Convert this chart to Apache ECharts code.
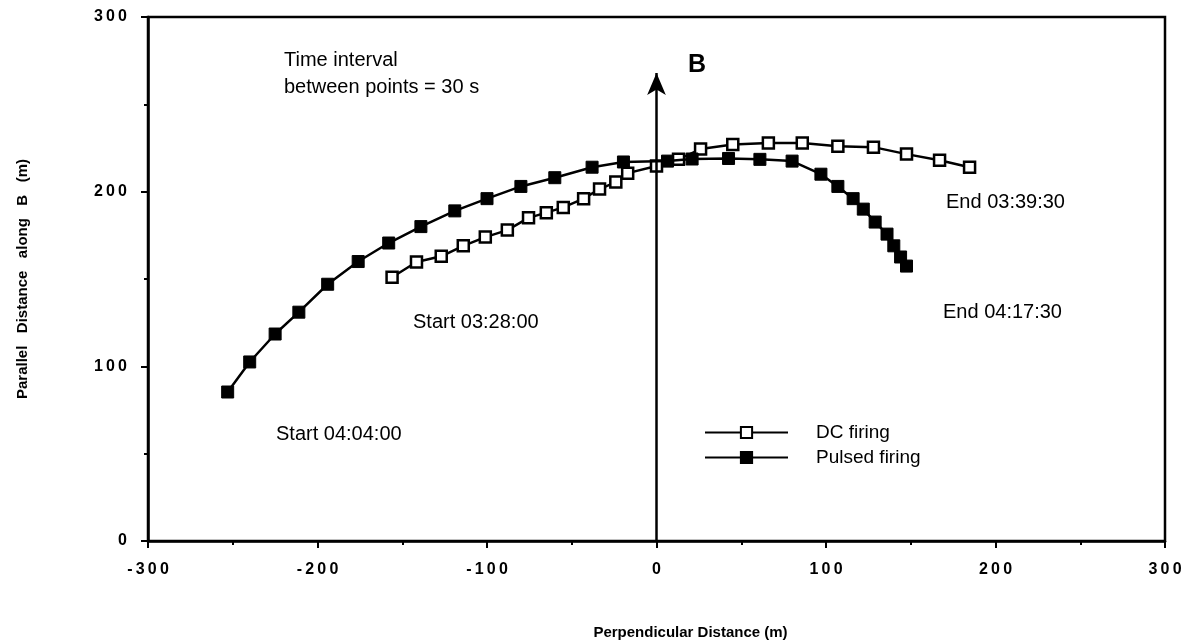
<!DOCTYPE html>
<html>
<head>
<meta charset="utf-8">
<script src="https://cdn.jsdelivr.net/npm/echarts@6/dist/echarts.min.js"></script>
<style>html,body{margin:0;padding:0;background:#fff;}#c{width:1197px;height:643px;}</style>
</head>
<body>
<div id="c"></div>
<script>
// DC firing (open squares), start 03:28:00, end 03:39:30
const dcX = [-156, -141.6, -127, -114, -101, -88, -75.5, -65, -55, -43, -33.6, -24, -17, 0, 13, 26, 45, 66, 86, 107, 128, 147.5, 167, 184.7];
const dcY = [151, 159.7, 163, 169, 174, 178, 185, 188, 191, 196, 201.5, 205.5, 210.6, 214.7, 218.5, 224.4, 227, 227.8, 227.8, 226, 225.5, 221.5, 218, 214];
// Pulsed firing (filled squares), start 04:04:00, end 04:17:30
const pulsedX = [-253, -240, -225, -211, -194, -176, -158, -139, -119, -100, -80, -60, -38, -19.5, 6.5, 21, 42.5, 61, 80, 97, 107, 116, 122, 129, 136, 140, 144, 147.5];
const pulsedY = [85.3, 102.5, 118.5, 131, 147, 160, 170.6, 180, 189, 196, 203, 208, 214, 217, 217.5, 218.7, 219, 218.5, 217.5, 210, 203, 196, 190, 182.6, 175.7, 169, 162.6, 157.4];
const xTicks = [-300, -200, -100, 0, 100, 200, 300];
const yTicks = [0, 100, 200, 300];
const arrowTop = 268;

const font = 'Liberation Sans, Arial, Helvetica, sans-serif';
const zip = (a, b) => a.map((v, i) => [v, b[i]]);
const spaced = v => String(v).split('').join('\u2009');

const chart = echarts.init(document.getElementById('c'), null, {renderer: 'canvas'});
const txt = (s, x, y, extra) => ({type: 'text', style: Object.assign({text: s, x: x, y: y, font: '20px ' + font, fill: '#000', align: 'left', verticalAlign: 'middle'}, extra || {})});
chart.setOption({
  backgroundColor: '#fff',
  animation: false,
  grid: {left: 148, right: 32, top: 17, bottom: 102, containLabel: false, outerBoundsMode: 'none',
    show: true, borderColor: '#000', borderWidth: 2.5, backgroundColor: 'transparent'},
  xAxis: {
    type: 'value', min: xTicks[0], max: xTicks[xTicks.length - 1], interval: 100,
    name: 'Perpendicular Distance (m)', nameLocation: 'middle', nameGap: 84,
    nameTextStyle: {fontFamily: font, fontWeight: 'bold', fontSize: 15, color: '#000', padding: [0, 0, 0, 68]},
    axisLine: {onZero: false, lineStyle: {color: '#000', width: 2.5}},
    axisTick: {show: true, inside: false, length: 7, lineStyle: {color: '#000', width: 2}},
    minorTick: {show: true, splitNumber: 2, length: 4, lineStyle: {color: '#000', width: 2}},
    splitLine: {show: false},
    axisLabel: {margin: 21, fontFamily: font, fontWeight: 'bold', fontSize: 16, color: '#000', formatter: spaced}
  },
  yAxis: {
    type: 'value', min: yTicks[0], max: yTicks[yTicks.length - 1], interval: 100,
    name: 'Parallel   Distance   along   B   (m)', nameLocation: 'middle', nameGap: 118,
    nameTextStyle: {fontFamily: font, fontWeight: 'bold', fontSize: 15, color: '#000'},
    axisLine: {onZero: false, lineStyle: {color: '#000', width: 2.5}},
    axisTick: {show: true, inside: false, length: 7, lineStyle: {color: '#000', width: 2}},
    minorTick: {show: true, splitNumber: 2, length: 4, lineStyle: {color: '#000', width: 2}},
    splitLine: {show: false},
    axisLabel: {margin: 21, fontFamily: font, fontWeight: 'bold', fontSize: 16, color: '#000', formatter: spaced}
  },
  legend: {
    orient: 'vertical', left: 704, top: 423, padding: 0, itemWidth: 83, itemHeight: 14, itemGap: 6,
    textStyle: {fontFamily: font, fontSize: 19, lineHeight: 14, color: '#000', padding: [0, 0, 0, 23]},
    data: ['DC firing', 'Pulsed firing']
  },
  series: [
    {
      name: 'DC firing', type: 'line', data: zip(dcX, dcY), z: 3,
      symbol: 'rect', symbolSize: 11, showAllSymbol: true,
      lineStyle: {color: '#000', width: 2.5},
      itemStyle: {color: '#fff', borderColor: '#000', borderWidth: 2.5}
    },
    {
      name: 'Pulsed firing', type: 'line', data: zip(pulsedX, pulsedY), z: 4,
      symbol: 'rect', symbolSize: 12, showAllSymbol: true,
      lineStyle: {color: '#000', width: 2.5},
      itemStyle: {color: '#000', borderColor: '#000', borderWidth: 1}
    },
    {
      name: 'B arrow', type: 'line', data: [], z: 5,
      markLine: {
        silent: true, symbol: ['none', 'arrow'], symbolSize: [14, 22],
        lineStyle: {color: '#000', width: 2.5, type: 'solid'},
        label: {show: false},
        data: [[{coord: [0, 0]}, {coord: [0, arrowTop]}]]
      }
    }
  ],
  graphic: [
    txt('Time interval', 284, 60),
    txt('between points = 30 s', 284, 87),
    txt('B', 697, 65, {font: 'bold 25px ' + font, align: 'center'}),
    txt('Start 03:28:00', 413, 322),
    txt('Start 04:04:00', 276, 434),
    txt('End 03:39:30', 946, 202),
    txt('End 04:17:30', 943, 312)
  ]
});
</script>
</body>
</html>
